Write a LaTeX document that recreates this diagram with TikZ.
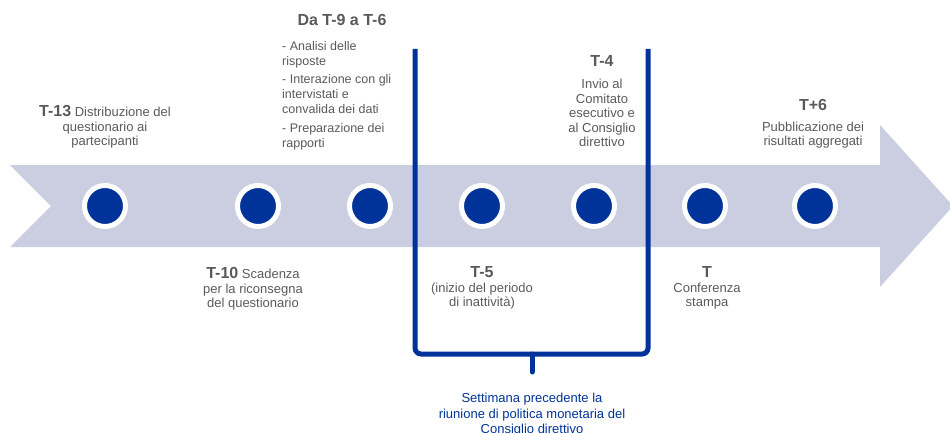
\documentclass[tikz,border=0pt]{standalone}
\usepackage{fontspec}
\setmainfont{Liberation Sans}
\usetikzlibrary{positioning}

\definecolor{bandgray}{RGB}{203,205,224}
\definecolor{ecbblue}{RGB}{0,51,153}
\definecolor{txtgray}{RGB}{90,90,90}

\begin{document}
\begin{tikzpicture}[
  x=1pt, y=-1pt,
  band/.style={fill=bandgray, draw=none},
  milestone/.style={
    circle, fill=ecbblue, draw=white, line width=5pt,
    minimum size=41pt, inner sep=0pt
  },
  label/.style={
    text=txtgray, font=\fontsize{16}{17}\selectfont\bfseries,
    align=center, inner sep=0pt
  },
  body/.style={
    text=txtgray, font=\fontsize{13}{14.6}\selectfont,
    align=center, inner sep=0pt
  },
  bracket/.style={draw=ecbblue, line width=5pt, rounded corners=6pt},
  note/.style={
    text=ecbblue, font=\fontsize{13}{15.5}\selectfont,
    align=center, inner sep=0pt
  },
]
  \useasboundingbox (0,0) rectangle (950,433);

  % timeline arrow
  \fill[band] (10,165) -- (880,165) -- (880,125) -- (953,206)
    -- (880,287) -- (880,247) -- (10,247) -- (51,206) -- cycle;

  % milestones
  \foreach \i/\x in {1/105, 2/258, 3/370, 4/482, 5/594, 6/705, 7/815} {
    \node[milestone] (m\i) at (\x,206) {};
  }

  % week bracket
  \coordinate (bl) at (415,49);
  \coordinate (br) at (648,49);
  \coordinate (bm) at (532,354);
  \draw[bracket] (bl) -- (bl |- bm) -- (br |- bm) -- (br);
  \draw[bracket, line cap=round] (bm) -- ++(0,18);

  % texts above the arrow
  \node[body] (t13) at (105,127)
    {{\fontsize{16}{17}\selectfont\bfseries T-13} Distribuzione del\\
     questionario ai\\partecipanti};
  \node[label] (t9) at (342,20) {Da T-9 a T-6};
  \node[body, font=\fontsize{12.5}{15}\selectfont, align=left,
        anchor=north west] (t9list) at (282,41)
    {- Analisi delle\\risposte\\[3.5pt]
     - Interazione con gli\\intervistati e\\convalida dei dati\\[3.5pt]
     - Preparazione dei\\rapporti};
  \node[label] (t4) at (602,61) {T-4};
  \node[body] (t4txt) at (602,113)
    {Invio al\\Comitato\\esecutivo e\\al Consiglio\\direttivo};
  \node[label] (t6) at (813,105) {T+6};
  \node[body] (t6txt) at (813,135)
    {Pubblicazione dei\\risultati aggregati};

  % texts below the arrow
  \node[body] (t10) at (253,289)
    {{\fontsize{16}{17}\selectfont\bfseries T-10} Scadenza\\
     per la riconsegna\\del questionario};
  \node[label] (t5) at (482,272) {T-5};
  \node[body] (t5txt) at (482,296) {(inizio del periodo\\di inattività)};
  \node[label] (t0) at (707,272) {T};
  \node[body] (t0txt) at (707,296) {Conferenza\\stampa};

  \node[note] (week) at (532,415)
    {Settimana precedente la\\riunione di politica monetaria del\\Consiglio direttivo};
\end{tikzpicture}
\end{document}
